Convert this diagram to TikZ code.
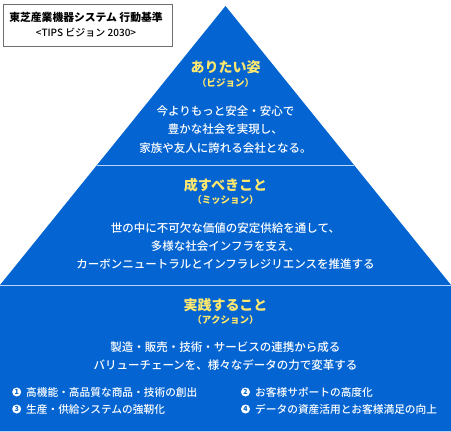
\documentclass[tikz,border=0pt]{standalone}
\usepackage{fontspec}
\setmainfont{Noto Sans CJK JP}
\newfontfamily\jpmed{Noto Sans CJK JP}[UprightFont={* Medium}]
\definecolor{pyblue}{RGB}{3,100,210}
\definecolor{pyyellow}{RGB}{255,232,110}
\definecolor{sepline}{RGB}{185,212,245}
\definecolor{boxgray}{RGB}{110,110,110}
\tikzset{
  ttl/.style={text=pyyellow,font=\fontsize{14}{16}\selectfont\bfseries,inner sep=0pt},
  subttl/.style={text=pyyellow,font=\fontsize{9.5}{11}\selectfont\bfseries,inner sep=0pt},
  body/.style={text=white,font=\jpmed\fontsize{11.5}{18.3}\selectfont,align=center,inner sep=0pt},
  item/.style={text=white,font=\jpmed\fontsize{10.7}{12}\selectfont,anchor=west,inner sep=0pt},
  num/.style={circle,fill=white,inner sep=0pt,minimum size=9pt,text=pyblue,font=\fontsize{7}{7}\selectfont\bfseries},
  sep/.style={draw=sepline,line width=1.6pt},
}
\begin{document}
\begin{tikzpicture}[x=1pt,y=-1pt]
\useasboundingbox (0,0) rectangle (451,432);
% pyramid shape
\fill[pyblue] (225.5,6) -- (451,285) -- (451,432) -- (0,432) -- (0,285) -- cycle;
% separators
\coordinate (s1l) at (97.3,165.5);
\coordinate (s1r) at (353.7,165.5);
\coordinate (s2l) at (0,285.5);
\coordinate (s2r) at (451,285.5);
\coordinate (s3l) at (0,431);
\coordinate (s3r) at (451,431);
\draw[sep] (s1l) -- (s1r);
\draw[sep] (s2l) -- (s2r);
\draw[sep,line width=1pt] (s3l) -- (s3r);
% heading box
\node[draw=boxgray,line width=0.9pt,fill=white,minimum width=169pt,minimum height=42pt,inner sep=0pt] (hb) at (87.5,25) {};
\node[font=\fontsize{10.8}{12}\selectfont\bfseries,inner sep=0pt] (h1) at (86,17) {東芝産業機器システム 行動基準};
\node[font=\jpmed\fontsize{10}{12}\selectfont,inner sep=0pt] (h2) at (86,33) {<TIPS ビジョン 2030>};
% section 1
\node[ttl] (t1) at (225.5,67) {ありたい姿};
\node[subttl] (u1) at (225.5,83) {（ビジョン）};
\node[body] (b1) at (225.5,129.5) {今よりもっと安全・安心で\\豊かな社会を実現し、\\家族や友人に誇れる会社となる。};
% section 2
\node[ttl] (t2) at (225.5,185) {成すべきこと};
\node[subttl] (u2) at (225.5,200) {（ミッション）};
\node[body] (b2) at (225.5,246) {世の中に不可欠な価値の安定供給を通して、\\多様な社会インフラを支え、\\カーボンニュートラルとインフラレジリエンスを推進する};
% section 3
\node[ttl] (t3) at (225.5,305) {実践すること};
\node[subttl] (u3) at (225.5,320) {（アクション）};
\node[body] (b3) at (225.5,356) {製造・販売・技術・サービスの連携から成る\\バリューチェーンを、様々なデータの力で変革する};
% items
\node[num] (n1) at (16.7,392) {1};
\node[item] (i1) at (26,392) {高機能・高品質な商品・技術の創出};
\node[num] (n2) at (245.5,392) {2};
\node[item] (i2) at (255,392) {お客様サポートの高度化};
\node[num] (n3) at (16.7,409) {3};
\node[item] (i3) at (26,409) {生産・供給システムの強靭化};
\node[num] (n4) at (245.5,409) {4};
\node[item] (i4) at (255,409) {データの資産活用とお客様満足の向上};
\end{tikzpicture}
\end{document}
